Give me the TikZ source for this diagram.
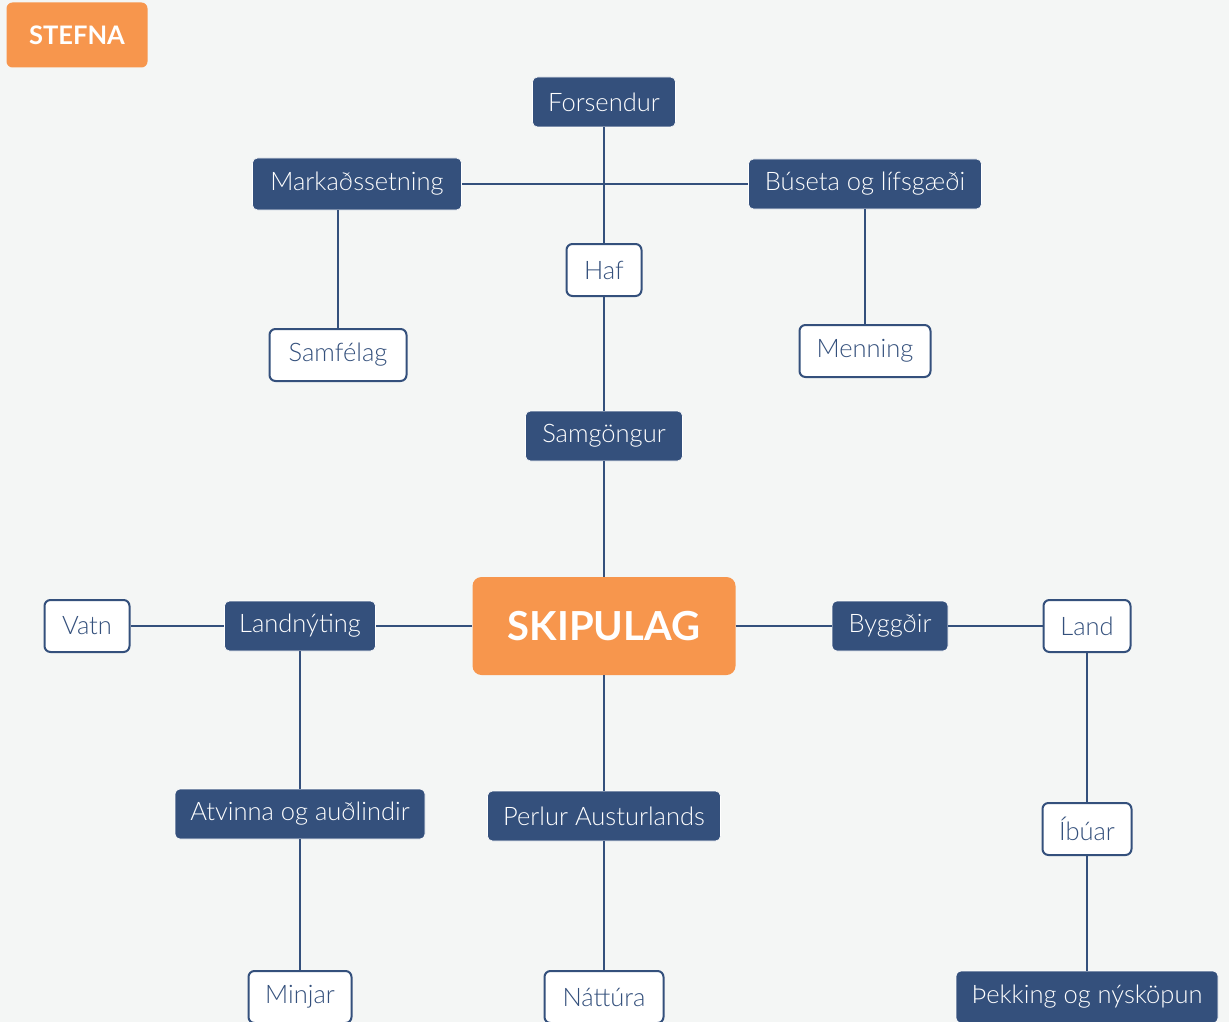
\documentclass[tikz,border=0pt]{standalone}
\usepackage{fontspec}
\setmainfont{Lato}[UprightFont=* Light, BoldFont=* Bold]
\usepackage{tikz}

\definecolor{navy}{HTML}{34507C}
\definecolor{peach}{HTML}{F7964D}
\definecolor{paper}{HTML}{F4F6F5}

\begin{document}
\begin{tikzpicture}[
				x=1pt, y=-1pt,
				darkbox/.style={rectangle, rounded corners=5pt, fill=navy, draw=white, line width=0.6pt,
						text=white, minimum height=50pt, font=\fontsize{25.5}{28}\selectfont},
				lightbox/.style={rectangle, rounded corners=6pt, fill=white, draw=navy, line width=2pt,
						text=navy, minimum height=52pt, font=\fontsize{25.5}{28}\selectfont},
				mainbox/.style={rectangle, rounded corners=9pt, fill=peach, text=white,
						font=\fontsize{40}{44}\selectfont\bfseries},
				link/.style={draw=navy, line width=2.2pt}
			]

			\fill[paper] (0,0) rectangle (1229,1022);
			\useasboundingbox (0,0) rectangle (1229,1022);

			% title tag
			\node[mainbox, minimum width=141pt, minimum height=65pt, rounded corners=6pt,
				font=\fontsize{25.5}{28}\selectfont\bfseries] (stefna) at (77,35) {STEFNA};

			% centre
			\node[mainbox, minimum width=263pt, minimum height=98pt] (skipulag) at (604,626) {SKIPULAG};

			% upper branch
			\node[darkbox, minimum width=143pt] (forsendur) at (604,102) {Forsendur};
			\node[darkbox, minimum width=209pt, minimum height=52pt] (markad) at (357,184) {Markaðssetning};
			\node[darkbox, minimum width=233pt] (buseta) at (865,184) {Búseta og lífsgæði};
			\node[lightbox, minimum width=75pt] (haf) at (604,270) {Haf};
			\node[lightbox, minimum width=137pt] (samfelag) at (338,355) {Samfélag};
			\node[lightbox, minimum width=131pt] (menning) at (865,351) {Menning};
			\node[darkbox, minimum width=157pt] (samgongur) at (604,436) {Samgöngur};

			% middle row
			\node[lightbox, minimum width=85pt] (vatn) at (87,626) {Vatn};
			\node[darkbox, minimum width=151pt] (landnyting) at (300,626) {Landnýting};
			\node[darkbox, minimum width=116pt] (byggdir) at (890,626) {Byggðir};
			\node[lightbox, minimum width=87pt] (land) at (1087,626) {Land};

			% lower branches
			\node[darkbox, minimum width=250pt] (atvinna) at (300,814) {Atvinna og auðlindir};
			\node[darkbox, minimum width=233pt] (perlur) at (604,816) {Perlur Austurlands};
			\node[lightbox, minimum width=89pt] (ibuar) at (1087,829) {Íbúar};
			\node[lightbox, minimum width=103pt] (minjar) at (300,997) {Minjar};
			\node[lightbox, minimum width=119pt] (nattura) at (604,997) {Náttúra};
			\node[darkbox, minimum width=262pt, minimum height=52pt] (thekking) at (1087,997) {Þekking og nýsköpun};

			\foreach \a/\b in {forsendur/haf, haf/samgongur, samgongur/skipulag, markad/buseta,
					buseta/menning, vatn/landnyting, landnyting/skipulag,
					skipulag/byggdir, byggdir/land, landnyting/atvinna, atvinna/minjar,
					skipulag/perlur, perlur/nattura, land/ibuar, ibuar/thekking} {
					\draw[link] (\a) -- (\b);
				}
			\draw[link] (markad.south -| samfelag) -- (samfelag);

		\end{tikzpicture}
\end{document}
